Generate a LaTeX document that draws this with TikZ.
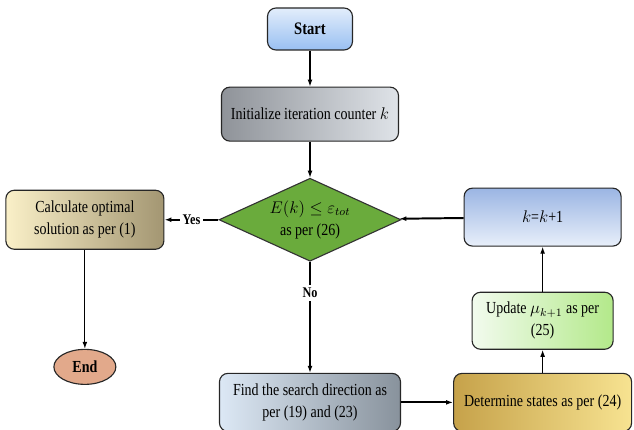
\documentclass[tikz,border=0pt]{standalone}
\usepackage{fontspec}
\setmainfont{Liberation Serif}[FakeStretch=0.83]
\usepackage{amsmath,amssymb}
\usepackage{tikz}
\usetikzlibrary{arrows.meta,shapes,positioning}
\definecolor{startTop}{HTML}{E2EDFB}
\definecolor{startBot}{HTML}{99C0F2}
\definecolor{initL}{HTML}{8F9399}
\definecolor{initR}{HTML}{DFE3E8}
\definecolor{decGreen}{HTML}{6AAB3C}
\definecolor{calcL}{HTML}{FAF0C8}
\definecolor{calcR}{HTML}{A39672}
\definecolor{endFill}{HTML}{E2A98B}
\definecolor{findL}{HTML}{DCE8F5}
\definecolor{findR}{HTML}{88929C}
\definecolor{detL}{HTML}{C6A24A}
\definecolor{detR}{HTML}{F7E391}
\definecolor{updL}{HTML}{F2FBEE}
\definecolor{updR}{HTML}{B3E98A}
\definecolor{kTop}{HTML}{9BB5E3}
\definecolor{kBot}{HTML}{E8EFFA}
\tikzset{ % box and line styles
    block/.style={rectangle, draw=black!85, line width=0.8pt, rounded corners=6pt, align=center, inner sep=2pt, font=\fontsize{12}{15.5}\selectfont},
    decision/.style={diamond, draw=black!80, line width=0.8pt, fill=decGreen, aspect=2.2, inner sep=0pt, align=center, minimum width=4.55cm, minimum height=2.075cm, font=\fontsize{12}{15.5}\selectfont},
    line/.style={draw, line width=0.8pt, -{Latex[length=5pt,width=3.5pt]}},
    thickline/.style={line, line width=1.4pt},
    lbl/.style={fill=white, inner sep=2pt, font=\bfseries\fontsize{10.5}{12}\selectfont}
}
\begin{document}
\begin{tikzpicture}
	\useasboundingbox (0,0) rectangle (15.85,-10.75);
	%Nodes
	\node[block, top color=startTop, bottom color=startBot, minimum width=2.125cm, minimum height=1.05cm, font=\bfseries\fontsize{12.5}{15.5}\selectfont] (start) at (7.75,-0.725) {Start};
	\node[block, left color=initL, right color=initR, minimum width=4.425cm, minimum height=1.35cm, below=0.9cm of start] (init) {Initialize iteration counter $k$};
	\node[decision, below=0.9cm of init] (dec) {$E(k) \leq \varepsilon_{tot}$\\as per (26)};
	\node[block, left color=calcL, right color=calcR, minimum width=3.95cm, minimum height=1.475cm, left=1.35cm of dec] (calc) {Calculate optimal\\solution as per (1)};
	\node[ellipse, draw=black!85, line width=0.8pt, fill=endFill, minimum width=1.55cm, minimum height=0.875cm, inner sep=0pt, below=2.475cm of calc, font=\bfseries\fontsize{12}{15.5}\selectfont] (end) {End};
	\node[block, left color=findL, right color=findR, minimum width=4.525cm, minimum height=1.45cm, below=2.775cm of dec] (find) {Find the search direction as\\per (19) and (23)};
	\node[block, left color=detL, right color=detR, minimum width=4.45cm, minimum height=1.45cm, right=1.3cm of find] (det) {Determine states as per (24)};
	\node[block, left color=updL, right color=updR, minimum width=3.525cm, minimum height=1.425cm, above=0.575cm of det] (upd) {Update $\mu_{k+1}$ as per\\(25)};
	\node[block, top color=kTop, bottom color=kBot, minimum width=3.925cm, minimum height=1.45cm, above=1.125cm of upd] (kinc) {$k$=$k$+1};
	%Edges
	\draw [line] (start) -- (init);
	\draw [line] (init) -- (dec);
	\draw [thickline] (dec) -- node[lbl] {Yes} (calc);
	\draw [line] (calc) -- (end);
	\draw [line] (dec) -- node[lbl, pos=0.28] {No} (find);
	\draw [thickline] (find) -- (det);
	\draw [line] (det) -- (upd);
	\draw [line] (upd) -- (kinc);
	\draw [thickline] (kinc) -- (dec);
\end{tikzpicture}
\end{document}
